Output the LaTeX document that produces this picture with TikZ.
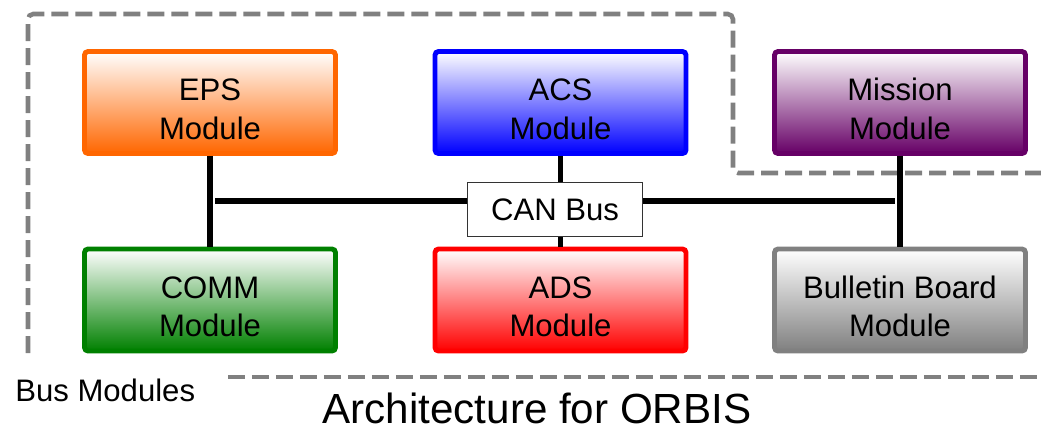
\documentclass[tikz,border=0pt]{standalone}
\usepackage{fontspec}
\setmainfont{Liberation Sans}
\usepackage{tikz}
\usetikzlibrary{positioning, calc}
\usepackage{xcolor}
\definecolor{epsorange}{RGB}{255,102,0}
\definecolor{acsblue}{RGB}{0,0,255}
\definecolor{missionpurple}{RGB}{102,0,102}
\definecolor{commgreen}{RGB}{0,128,0}
\definecolor{adsred}{RGB}{255,0,0}
\definecolor{boardgray}{RGB}{128,128,128}

\tikzset{
  module/.style={draw=#1, line width=2.8pt, rounded corners=2pt, align=center,
    minimum width=5.02cm, minimum height=2.04cm, inner sep=0pt,
    top color=white, middle color=#1!25, bottom color=#1,
    font=\fontsize{17.7}{22}\selectfont, text height=42pt},
  busbox/.style={draw=black!80, line width=0.6pt, fill=white,
    minimum width=3.5cm, minimum height=1.08cm, inner sep=0pt,
    font=\fontsize{17.7}{22}\selectfont},
  busline/.style={line width=3pt, black},
  groupline/.style={line width=2.6pt, boardgray, dash pattern=on 0.34cm off 0.14cm}
}

\begin{document}
\begin{tikzpicture}[x=0.02cm, y=-0.02cm]
        \useasboundingbox (0,0) rectangle (1041,430);

        % Bus modules group
        \draw[groupline, rounded corners=3pt] (28,353) -- (28,14) -- (733,14) -- (733,173) -- (1041,173);
        \draw[groupline] (228,377) -- (1041,377);
        \node[anchor=west, inner sep=0pt, font=\fontsize{17.7}{22}\selectfont] (buslabel) at (15,390) {Bus Modules};

        % Modules
        \node[module=epsorange] (eps) at (210,102.5) {EPS\\Module};
        \node[module=acsblue] (acs) at (560.5,102.5) {ACS\\Module};
        \node[module=missionpurple] (mission) at (900,102.5) {Mission\\Module};
        \node[module=commgreen] (comm) at (210,300) {COMM\\Module};
        \node[module=adsred] (ads) at (560.5,300) {ADS\\Module};
        \node[module=boardgray] (board) at (900,300) {Bulletin Board\\Module};

        % CAN bus
        \node[busbox] (can) at (555,209.5) {CAN Bus};
        \coordinate (busL) at (215,201);
        \coordinate (busR) at (895,201);
        \draw[busline] (eps.south) -- (comm.north);
        \draw[busline] (mission.south) -- (board.north);
        \draw[busline] (acs.south -| 560.5,0) -- (can.north -| 560.5,0);
        \draw[busline] (can.south -| 560.5,0) -- (ads.north -| 560.5,0);
        \draw[busline] (busL) -- (busL -| can.west);
        \draw[busline] (busR -| can.east) -- (busR);

        % Title
        \node[inner sep=0pt, font=\fontsize{24}{28}\selectfont] (title) at (537,408) {Architecture for ORBIS};

    \end{tikzpicture}
\end{document}
